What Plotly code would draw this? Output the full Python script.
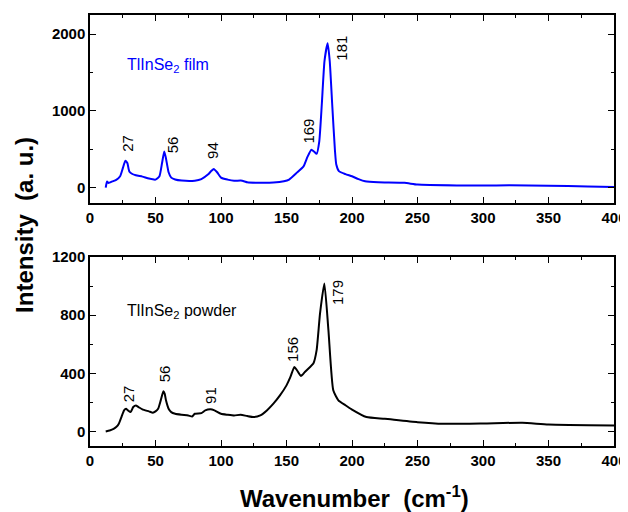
import plotly.graph_objects as go

# Film spectrum (blue)
film_x = [12, 13, 14, 15, 17, 20, 23, 25, 27, 28.5, 30, 32, 35, 40, 45, 50, 53, 55, 56.7, 58, 60, 62, 65,
          70, 80, 85, 90, 92.5, 94.5, 97, 100, 105, 110, 115, 118, 120, 130, 140, 148, 152, 158, 163, 166,
          169, 171, 173, 175, 177, 179, 181.4, 183, 185, 187, 188, 190, 195, 200, 205, 210, 220, 240, 250,
          280, 300, 320, 350, 380, 400]
film_y = [0, 80, 60, 65, 80, 100, 147, 250, 350, 320, 210, 180, 160, 143, 117, 104, 147, 320, 471, 380,
          200, 130, 105, 91, 90, 110, 169, 215, 243, 200, 130, 104, 88, 91, 80, 69, 62, 65, 82, 104, 195,
          277, 400, 494, 470, 440, 600, 1100, 1650, 1883, 1650, 1050, 480, 300, 215, 175, 147, 110, 82,
          69, 62, 39, 28, 26, 30, 24, 15, 9]

# Powder spectrum (black)
powder_x = [12, 15, 18, 20, 22, 24, 26, 27.5, 29, 31, 33, 35, 37, 40, 45, 48, 50, 52, 54, 56, 57, 58,
            60, 62, 65, 70, 75, 78, 80, 85, 88, 92, 95, 100, 105, 110, 115, 120, 125, 130, 135, 140, 145,
            150, 153, 156, 158, 161, 164, 168, 170.5, 173, 175.6, 178.9, 182, 185.7, 189.6, 195, 199.7,
            211, 225, 250, 270, 300, 330, 350, 400]
powder_y = [0, 7, 18, 30, 53, 99, 145, 156, 145, 133, 168, 179, 168, 152, 138, 129, 138, 156, 214, 276,
            260, 214, 156, 133, 122, 115, 110, 103, 122, 126, 145, 152, 145, 122, 115, 110, 115, 106, 99,
            110, 145, 191, 248, 317, 375, 444, 421, 382, 409, 444, 467, 559, 812, 1018, 697, 283, 214,
            180, 152, 99, 87, 64, 53, 55, 60, 48, 41]

# Peak labels
film_peaks = ["27", "56", "94", "169", "181"]
film_peak_x = [29, 63, 94, 167, 192]
film_peak_y = [584, 558, 480, 740, 1818]
powder_peaks = ["27", "56", "91", "156", "179"]
powder_peak_x = [29, 56.5, 92, 154, 188.5]
powder_peak_y = [262, 393, 248, 566, 959]

FONT = "Liberation Sans, Arial, sans-serif"

fig = go.Figure()
fig.add_trace(go.Scatter(x=film_x, y=film_y, mode="lines", line=dict(color="#0000ff", width=2, shape="spline", smoothing=0.5),
                         xaxis="x", yaxis="y", showlegend=False))
fig.add_trace(go.Scatter(x=powder_x, y=powder_y, mode="lines", line=dict(color="black", width=2, shape="spline", smoothing=0.5),
                         xaxis="x2", yaxis="y2", showlegend=False))

axis_common = dict(showline=True, linecolor="black", linewidth=1.5, mirror="ticks", ticks="inside",
                   ticklen=6, tickwidth=1.3, tickcolor="black", showgrid=False, zeroline=False,
                   automargin=False,
                   tickfont=dict(family=FONT, size=15, color="black", weight="bold"))

# The page body has an 8px margin, so the figure's margins are offset to compensate.
fig.update_layout(
    width=628, height=512,
    margin=dict(l=82, r=22, t=7, b=74, autoexpand=False),
    plot_bgcolor="white", paper_bgcolor="white",
    xaxis=dict(domain=[0, 1], range=[0, 400], dtick=50, anchor="y",
               minor=dict(ticks="inside", dtick=25, ticklen=3, tickcolor="black", tickwidth=1.2), **axis_common),
    yaxis=dict(domain=[0.564, 1], range=[-200, 2250], tickvals=[0, 1000, 2000], anchor="x",
               minor=dict(ticks="inside", tickvals=[500, 1500], ticklen=3, tickcolor="black", tickwidth=1.2), **axis_common),
    xaxis2=dict(domain=[0, 1], range=[0, 400], dtick=50, anchor="y2",
                minor=dict(ticks="inside", dtick=25, ticklen=3, tickcolor="black", tickwidth=1.2), **axis_common),
    yaxis2=dict(domain=[0, 0.4385], range=[-100, 1200], tickvals=[0, 400, 800, 1200], anchor="x2",
                minor=dict(ticks="inside", tickvals=[200, 600, 1000], ticklen=3, tickcolor="black", tickwidth=1.2), **axis_common),
)

ann = []
for t, x, y in zip(film_peaks, film_peak_x, film_peak_y):
    ann.append(dict(x=x, y=y, xref="x", yref="y", text=t, textangle=-90, showarrow=False,
                    font=dict(family=FONT, size=15, color="black")))
for t, x, y in zip(powder_peaks, powder_peak_x, powder_peak_y):
    ann.append(dict(x=x, y=y, xref="x2", yref="y2", text=t, textangle=-90, showarrow=False,
                    font=dict(family=FONT, size=15, color="black")))
ann.append(dict(x=27, y=1597, xref="x", yref="y", text="TlInSe<sub>2</sub> film", showarrow=False,
                xanchor="left", font=dict(family=FONT, size=16, color="#0000ff")))
ann.append(dict(x=27, y=828, xref="x2", yref="y2", text="TlInSe<sub>2</sub> powder", showarrow=False,
                xanchor="left", font=dict(family=FONT, size=16, color="black")))
ann.append(dict(x=-0.124, y=0.513, xref="paper", yref="paper", text="Intensity  (a. u.)", textangle=-90,
                showarrow=False, xanchor="center", yanchor="middle",
                font=dict(family=FONT, size=24, color="black", weight="bold")))
ann.append(dict(x=0.504, y=-0.118, xref="paper", yref="paper", text="Wavenumber  (cm<sup>-1</sup>)",
                showarrow=False, xanchor="center", yanchor="middle",
                font=dict(family=FONT, size=24, color="black", weight="bold")))
fig.update_layout(annotations=ann)

fig.write_html("out.html")
